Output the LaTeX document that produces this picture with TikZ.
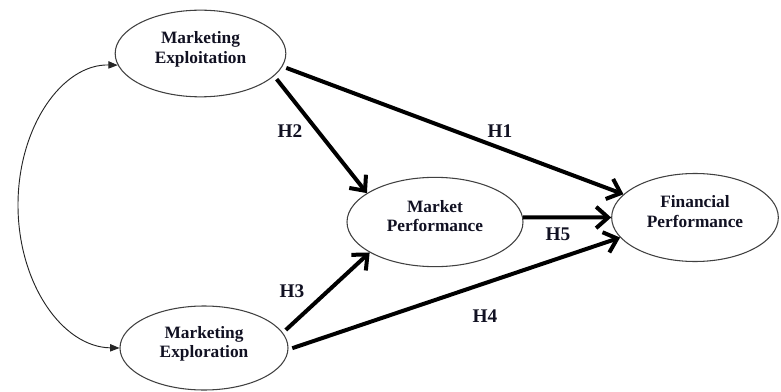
\documentclass[tikz,border=0pt]{standalone}
\usepackage{fontspec}
\setmainfont{Liberation Serif}
\usetikzlibrary{shapes.geometric, arrows.meta}
\definecolor{ovalLine}{HTML}{404040}
\definecolor{textInk}{HTML}{111122}
\tikzset{
    ConstructText/.style={font=\fontsize{13}{14.5}\selectfont\bfseries, text=textInk},
    HypText/.style={font=\fontsize{14.5}{16}\selectfont\bfseries, text=textInk},
    ConstructOval/.style={ellipse, draw=ovalLine, line width=0.8pt, align=center, inner sep=0pt, text depth=9pt, ConstructText},
    HypArrow/.style={-{Straight Barb[length=9pt, width=16pt]}, line width=3pt, shorten <=3pt},
    CorrArrow/.style={{Triangle[length=7pt, width=5.5pt]}-{Triangle[length=7pt, width=5.5pt]}, line width=0.7pt, black!85}
}
\begin{document}
\begin{tikzpicture}[x=0.75pt, y=-0.75pt]
    % --- 画布与参考图同尺寸 (781 x 392) ---
    \useasboundingbox (0,0) rectangle (781,392);

    % 四个构念
    \node[ConstructOval, minimum width=128pt, minimum height=65pt] (mexploit) at (200.5,53.5) {Marketing\\Exploitation};
    \node[ConstructOval, minimum width=126pt, minimum height=63pt] (mexplore) at (204,348) {Marketing\\Exploration};
    \node[ConstructOval, minimum width=132pt, minimum height=67pt] (mperf) at (435,222) {Market\\Performance};
    \node[ConstructOval, minimum width=125pt, minimum height=66pt] (fperf) at (695,217.5) {Financial\\Performance};

    % 假设路径 H1--H5
    \draw[HypArrow] (mexploit.-9) -- (fperf.162);
    \draw[HypArrow] (mexploit.-17) -- (mperf.157);
    \draw[HypArrow] (mexplore.11) -- (mperf.205);
    \draw[HypArrow] (mexplore.-1) -- (fperf.195);
    \draw[HypArrow, shorten <=0pt] (mperf.3) -- (fperf.west);

    \node[HypText] (h1) at (500,131) {H1};
    \node[HypText] (h2) at (290,131) {H2};
    \node[HypText] (h3) at (292,291) {H3};
    \node[HypText] (h4) at (485,316) {H4};
    \node[HypText] (h5) at (558,234) {H5};

    % 左侧相关弧线
    \coordinate (corrLeft) at (18,205);
    \draw[CorrArrow] (mexploit.188) .. controls (62,64) and (18,127) .. (corrLeft)
        .. controls (18,283) and (62,347) .. (mexplore.west);
\end{tikzpicture}
\end{document}
